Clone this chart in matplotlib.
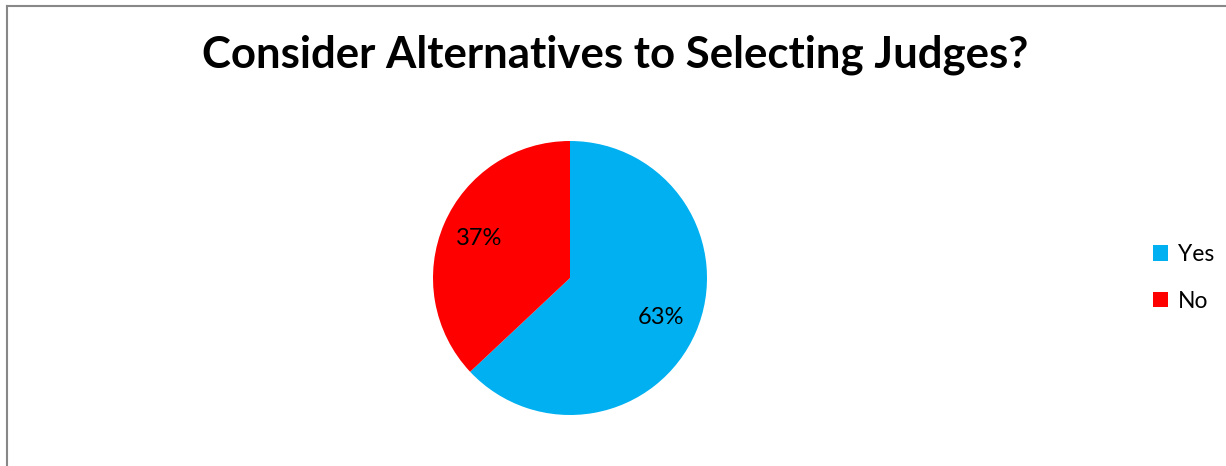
import matplotlib.pyplot as plt
from matplotlib.lines import Line2D

labels = ["Yes", "No"]
shares = [63, 37]
colors = ["#00B0F0", "#FF0000"]
title = "Consider Alternatives to Selecting Judges?"

W, H = 1226, 466
plt.rcParams['font.family'] = ['Lato', 'DejaVu Sans']

fig = plt.figure(figsize=(W / 100, H / 100), dpi=100)

# pie: centre (570, 278) px, radius 137 px
cx, cy, r = 570, 278, 137
ax = fig.add_axes([(cx - r) / W, 1 - (cy + r) / H, 2 * r / W, 2 * r / H])
wedges, texts, autotexts = ax.pie(shares, colors=colors, startangle=90, counterclock=False,
                                  autopct='%d%%', pctdistance=0.72, radius=1,
                                  textprops={'fontsize': 17, 'color': 'black'})
ax.set_xlim(-1, 1)
ax.set_ylim(-1, 1)
ax.set_aspect('equal')

fig.text(615 / W, 1 - 55 / H, title, ha='center', va='center',
         fontsize=31.5, fontweight='bold')

fig.legend(wedges, labels, loc='center left', bbox_to_anchor=(1132 / W, 1 - 278 / H),
           frameon=False, fontsize=16.5, handlelength=0.65, handleheight=0.65,
           handletextpad=0.45, labelspacing=1.12)

# chart area border (top and left edges visible)
fig.add_artist(Line2D([6.5 / W, 1], [1 - 5.5 / H, 1 - 5.5 / H], transform=fig.transFigure,
                      color='#888888', linewidth=1.5))
fig.add_artist(Line2D([6.5 / W, 6.5 / W], [0, 1 - 5.5 / H], transform=fig.transFigure,
                      color='#888888', linewidth=1.5))

fig.savefig("out.png", dpi=100)
